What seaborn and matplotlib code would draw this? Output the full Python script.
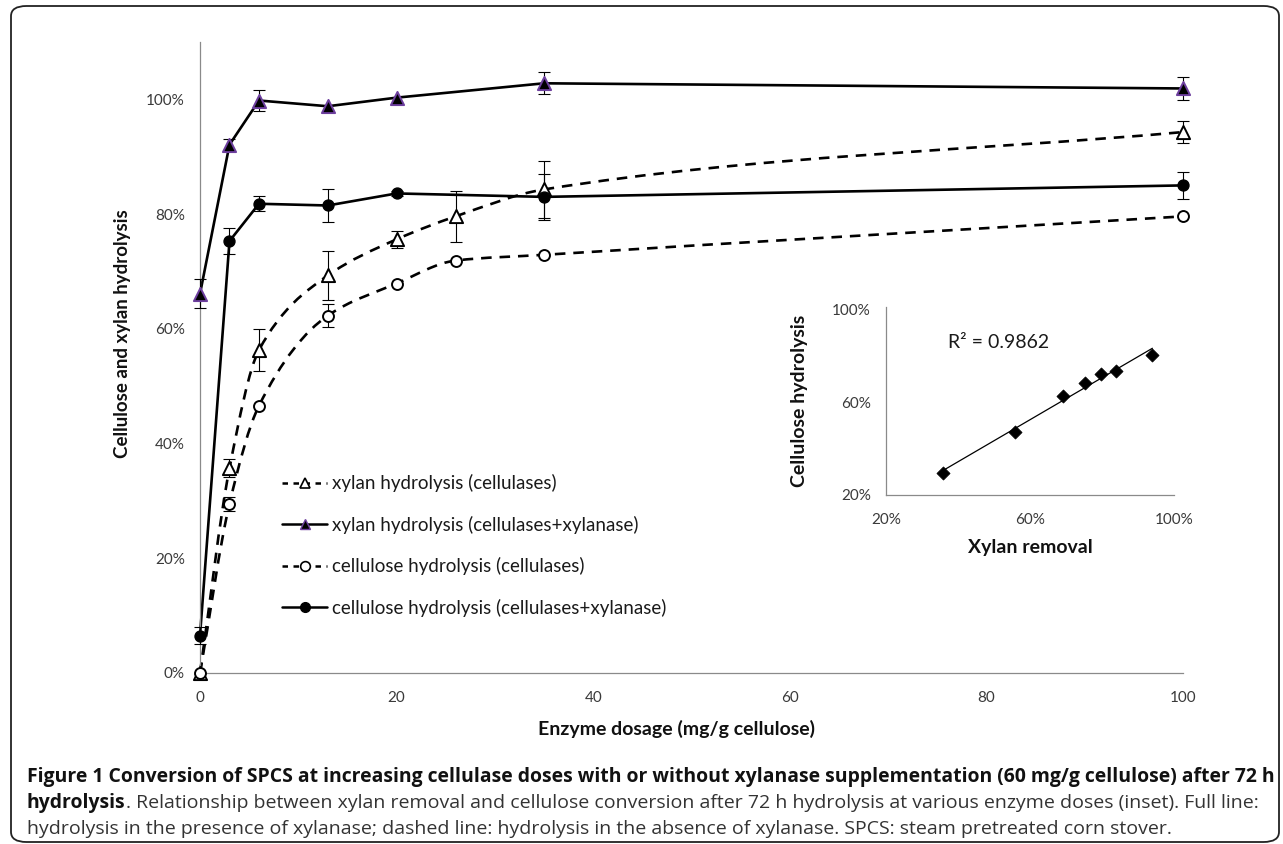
import numpy as np
import pandas as pd
import matplotlib
matplotlib.use("Agg")
import matplotlib.pyplot as plt
import seaborn as sns
from matplotlib.path import Path
from matplotlib.patches import PathPatch, FancyBboxPatch
from matplotlib.lines import Line2D
from matplotlib.ticker import PercentFormatter, FixedLocator

# ---------------- data ----------------
dose_all = [0, 3, 6, 13, 20, 26, 35, 100]          # dashed series (cellulases only)
dose_xyl = [0, 3, 6, 13, 20, 35, 100]              # solid series (+xylanase)

xylan_cel = [0.0, 35.7, 56.3, 69.3, 75.6, 79.6, 84.3, 94.3]
xylan_cel_err = [0.0, 1.6, 3.6, 4.3, 1.5, 4.4, 5.0, 1.9]
xylan_xyl = [66.1, 92.1, 99.8, 98.8, 100.3, 102.8, 101.9]
xylan_xyl_err = [2.5, 1.0, 1.8, 0.0, 0.0, 1.9, 2.0]
cell_cel = [0.0, 29.5, 46.6, 62.3, 67.9, 71.9, 72.9, 79.6]
cell_cel_err = [0.0, 1.2, 0.0, 2.0, 0.0, 0.0, 0.0, 0.0]
cell_xyl = [6.5, 75.3, 81.8, 81.5, 83.6, 83.0, 85.0]
cell_xyl_err = [1.5, 2.2, 1.3, 2.8, 0.4, 4.0, 2.3]

series_labels = ["xylan hydrolysis (cellulases)",
                 "xylan hydrolysis (cellulases+xylanase)",
                 "cellulose hydrolysis (cellulases)",
                 "cellulose hydrolysis (cellulases+xylanase)"]

y_ticks = [0, 20, 40, 60, 80, 100]
x_ticks = [0, 20, 40, 60, 80, 100]

# inset
xylan_removal = [35.7, 55.9, 69.2, 75.2, 79.6, 83.8, 94.0]
cell_hydrolysis = [29.6, 47.1, 62.6, 68.4, 72.2, 73.4, 80.2]
inset_ticks = [20, 60, 100]
r2_label = "R² = 0.9862"

xlabel = "Enzyme dosage (mg/g cellulose)"
ylabel = "Cellulose and xylan hydrolysis"
inset_xlabel = "Xylan removal"
inset_ylabel = "Cellulose hydrolysis"

cap1 = ("Figure 1 Conversion of SPCS at increasing cellulase doses with or without "
        "xylanase supplementation (60 mg/g cellulose) after 72 h")
cap2_bold = "hydrolysis"
cap2_reg = (". Relationship between xylan removal and cellulose conversion after 72 h "
            "hydrolysis at various enzyme doses (inset). Full line:")
cap3 = ("hydrolysis in the presence of xylanase; dashed line: hydrolysis in the absence "
        "of xylanase. SPCS: steam pretreated corn stover.")

# ---------------- style ----------------
sns.set_theme(style="white")
plt.rcParams["font.family"] = ["Lato", "DejaVu Sans"]

W, H = 1283, 844
fig = plt.figure(figsize=(W / 100, H / 100), dpi=100)


def fx(px):
    return px / W


def fy(py):
    return 1 - py / H


SPINE = "#8a8a8a"
TICKC = "#3a3a3a"
PURPLE = "#6d3f9e"

# main axes: x 0..100 -> px 200..1183, y 0..110 -> px 673..42
ax = fig.add_axes([fx(200), fy(673), fx(1183) - fx(200), fy(42) - fy(673)])
ax.set_xlim(0, 100)
ax.set_ylim(0, 110)
for s in ["top", "right"]:
    ax.spines[s].set_visible(False)
for s in ["left", "bottom"]:
    ax.spines[s].set_color(SPINE)
    ax.spines[s].set_linewidth(0.9)
ax.xaxis.set_major_locator(FixedLocator(x_ticks))
ax.yaxis.set_major_locator(FixedLocator(y_ticks))
ax.yaxis.set_major_formatter(PercentFormatter(100, decimals=0))
ax.tick_params(axis="both", length=0, labelsize=11, colors=TICKC)
ax.tick_params(axis="y", pad=11)
ax.tick_params(axis="x", pad=13)
ax.set_xlabel(xlabel, fontsize=14, fontweight="bold", color="#111111")
ax.set_ylabel(ylabel, fontsize=13.5, fontweight="bold", color="#111111")
ax.yaxis.set_label_coords((131 - 200) / 983, (673 - 334) / 631)
ax.xaxis.set_label_coords((676 - 200) / 983, (673 - 720) / 631)


def smooth_path(x, y):
    x = np.asarray(x, float)
    y = np.asarray(y, float)
    h = np.diff(x)
    d = np.diff(y) / h
    m = np.zeros_like(y)
    m[0], m[-1] = d[0], d[-1]
    for i in range(1, len(x) - 1):
        if d[i - 1] * d[i] > 0:
            w1 = 2 * h[i] + h[i - 1]
            w2 = h[i] + 2 * h[i - 1]
            m[i] = (w1 + w2) / (w1 / d[i - 1] + w2 / d[i])
    verts = [(x[0], y[0])]
    codes = [Path.MOVETO]
    for i in range(len(x) - 1):
        verts += [(x[i] + h[i] / 3, y[i] + m[i] * h[i] / 3),
                  (x[i + 1] - h[i] / 3, y[i + 1] - m[i + 1] * h[i] / 3),
                  (x[i + 1], y[i + 1])]
        codes += [Path.CURVE4] * 3
    return Path(verts, codes)


DASH = (0, (4, 3))
LW = 1.9

# dashed smoothed lines
for yy in (xylan_cel, cell_cel):
    ax.add_patch(PathPatch(smooth_path(dose_all, yy), fill=False, edgecolor="black",
                           linewidth=LW, linestyle=DASH, zorder=2, clip_on=False))

# solid lines
for yy in (xylan_xyl, cell_xyl):
    sns.lineplot(x=dose_xyl, y=yy, ax=ax, color="black", linewidth=LW, sort=False,
                 estimator=None, zorder=2, clip_on=False)


def errbars(x, y, e):
    x = np.asarray(x); y = np.asarray(y); e = np.asarray(e)
    k = e > 0
    ax.errorbar(x[k], y[k], yerr=e[k], fmt="none", ecolor="black", elinewidth=0.8,
                capsize=4, capthick=0.8, zorder=3, clip_on=False)


errbars(dose_all, xylan_cel, xylan_cel_err)
errbars(dose_xyl, xylan_xyl, xylan_xyl_err)
errbars(dose_all, cell_cel, cell_cel_err)
errbars(dose_xyl, cell_xyl, cell_xyl_err)

# markers
sns.scatterplot(x=dose_all, y=xylan_cel, ax=ax, marker="^", s=90, color="white",
                edgecolor="black", linewidth=1.4, zorder=4, clip_on=False)
sns.scatterplot(x=dose_xyl, y=xylan_xyl, ax=ax, marker="^", s=90, color="black",
                edgecolor=PURPLE, linewidth=1.4, zorder=4, clip_on=False)
sns.scatterplot(x=dose_all, y=cell_cel, ax=ax, marker="o", s=62, color="white",
                edgecolor="black", linewidth=1.4, zorder=4, clip_on=False)
sns.scatterplot(x=dose_xyl, y=cell_xyl, ax=ax, marker="o", s=62, color="black",
                edgecolor="black", linewidth=1.0, zorder=4, clip_on=False)

handles = [
    Line2D([], [], color="black", lw=1.8, ls=(0, (2.2, 2.2)), marker="^", ms=7,
           mfc="white", mec="black", mew=1.2),
    Line2D([], [], color="black", lw=1.8, ls="-", marker="^", ms=7,
           mfc="black", mec=PURPLE, mew=1.0),
    Line2D([], [], color="black", lw=1.8, ls=(0, (2.2, 2.2)), marker="o", ms=7,
           mfc="white", mec="black", mew=1.2),
    Line2D([], [], color="black", lw=1.8, ls="-", marker="o", ms=7,
           mfc="black", mec="black", mew=1.0),
]
leg = ax.legend(handles, series_labels, loc="upper left",
                bbox_to_anchor=(fx(282), fy(474)), bbox_transform=fig.transFigure,
                frameon=False, fontsize=13.5, handlelength=2.4, handletextpad=0.25,
                labelspacing=1.25, borderpad=0, borderaxespad=0)
for t in leg.get_texts():
    t.set_color("#1a1a1a")

# inset axes: x 20..100 -> px 886..1174, y 20..100 -> px 495..307
ax2 = fig.add_axes([fx(886), fy(495), fx(1174) - fx(886), fy(307) - fy(495)])
ax2.set_xlim(20, 100)
ax2.set_ylim(20, 101)
for s in ["top", "right"]:
    ax2.spines[s].set_visible(False)
for s in ["left", "bottom"]:
    ax2.spines[s].set_color(SPINE)
    ax2.spines[s].set_linewidth(0.9)
ax2.xaxis.set_major_locator(FixedLocator(inset_ticks))
ax2.yaxis.set_major_locator(FixedLocator(inset_ticks))
ax2.xaxis.set_major_formatter(PercentFormatter(100, decimals=0))
ax2.yaxis.set_major_formatter(PercentFormatter(100, decimals=0))
ax2.tick_params(axis="both", length=0, labelsize=11, colors=TICKC)
ax2.tick_params(axis="y", pad=11)
ax2.tick_params(axis="x", pad=13)
sns.regplot(x=xylan_removal, y=cell_hydrolysis, ax=ax2, ci=None, scatter=False,
            truncate=True, line_kws=dict(color="black", linewidth=0.9))
sns.scatterplot(x=xylan_removal, y=cell_hydrolysis, ax=ax2, marker="D", s=45,
                color="black", edgecolor="black", linewidth=0.5, zorder=4)
ax2.set_xlabel(inset_xlabel, fontsize=14, fontweight="bold", color="#111111")
ax2.set_ylabel(inset_ylabel, fontsize=14, fontweight="bold", color="#111111")
ax2.yaxis.set_label_coords((808 - 886) / 288, 0.5)
ax2.xaxis.set_label_coords(0.5, (495 - 539) / 188)
fig.text(fx(948), fy(342), r2_label, fontsize=14, color="#1a1a1a", va="center", ha="left")

# border
fig.patches.append(FancyBboxPatch((fx(11), fy(842)), fx(1279) - fx(11), fy(6) - fy(842),
                                  boxstyle="round,pad=0,rounding_size=0.012",
                                  transform=fig.transFigure, fill=False,
                                  edgecolor="#222222", linewidth=1.3))

# caption
fig.canvas.draw()
rend = fig.canvas.get_renderer()


def fit(t, target):
    for _ in range(4):
        w = t.get_window_extent(rend).width
        t.set_fontsize(t.get_fontsize() * target / w)


CFONT = ["Open Sans", "DejaVu Sans"]
t1 = fig.text(fx(27), fy(777), cap1, fontsize=12, fontweight="bold", color="#111111",
              va="center", ha="left", family=CFONT)
fit(t1, 1276 - 27)
t3 = fig.text(fx(27), fy(829), cap3, fontsize=12, color="#333333",
              va="center", ha="left", family=CFONT)
fit(t3, 1171 - 27)
t2b = fig.text(fx(27), fy(803), cap2_bold, fontsize=t1.get_fontsize(), fontweight="bold",
               color="#111111", va="center", ha="left", family=CFONT)
wb = t2b.get_window_extent(rend).width
fig.text(fx(27 + wb), fy(803), cap2_reg, fontsize=t3.get_fontsize(), color="#333333",
         va="center", ha="left", family=CFONT)

fig.savefig("out.png", dpi=100)
